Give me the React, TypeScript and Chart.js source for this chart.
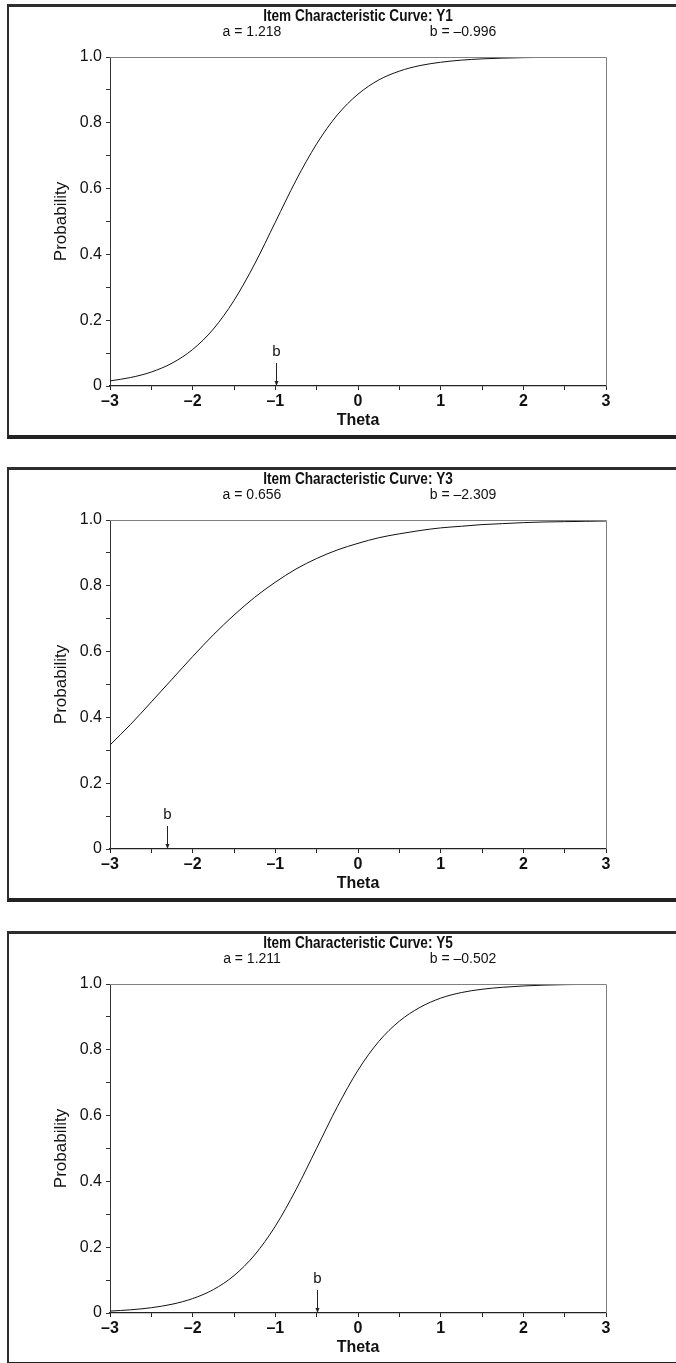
import React, { useEffect, useRef } from 'react';
import { Chart, registerables } from 'chart.js';

Chart.register(...registerables);

// ---- data ----
const THETA = [-3, -2.75, -2.5, -2.25, -2, -1.75, -1.5, -1.25, -1, -0.75, -0.5, -0.25, 0, 0.25, 0.5, 0.75, 1, 1.25, 1.5, 1.75, 2, 2.25, 2.5, 2.75, 3];
const Y1_PROB = [0.0155, 0.0258, 0.0425, 0.0694, 0.111, 0.173, 0.26, 0.371, 0.498, 0.625, 0.736, 0.824, 0.887, 0.93, 0.957, 0.974, 0.984, 0.9905, 0.9943, 0.9966, 0.998, 0.9988, 0.9993, 0.9996, 0.9997];
const Y3_PROB = [0.316, 0.379, 0.447, 0.516, 0.585, 0.651, 0.711, 0.765, 0.811, 0.851, 0.883, 0.909, 0.929, 0.946, 0.958, 0.968, 0.976, 0.981, 0.986, 0.989, 0.992, 0.994, 0.995, 0.996, 0.997];
const Y5_PROB = [0.0058, 0.0097, 0.0161, 0.0266, 0.0438, 0.0711, 0.1136, 0.1766, 0.264, 0.375, 0.501, 0.627, 0.738, 0.825, 0.887, 0.929, 0.957, 0.974, 0.984, 0.99, 0.994, 0.9966, 0.998, 0.9988, 0.9993];
const ITEM_NAMES = ['Y1', 'Y3', 'Y5'];
const A_PARAMS = [1.218, 0.656, 1.211];
const B_PARAMS = [-0.996, -2.309, -0.502];
const X_TICK_LABELS = ['\u20133', '\u20132', '\u20131', '0', '1', '2', '3'];
const Y_TICK_LABELS = ['0', '0.2', '0.4', '0.6', '0.8', '1.0'];

const PROBS = [Y1_PROB, Y3_PROB, Y5_PROB];

// ---- layout ----
const PANEL_TOPS = [4, 467, 931];
const CANVAS_W = 676;
const CANVAS_H = 435;
const FONT = '"Liberation Sans", Arial, Helvetica, sans-serif';
const TITLE_Y = 13;
const AB_Y = 28;
const A_X = 252;
const B_X = 463;
const TITLE_SQUEEZE = 0.85;

function fmt(v: number) {
  const s = Math.abs(v).toFixed(3);
  return v < 0 ? '\u2013' + s : s;
}

function Panel({ idx }: { idx: number }) {
  const ref = useRef<HTMLCanvasElement | null>(null);
  useEffect(() => {
    const canvas = ref.current;
    if (!canvas) return;
    const bVal = B_PARAMS[idx];
    const title = 'Item Characteristic Curve: ' + ITEM_NAMES[idx];
    const aText = 'a = ' + A_PARAMS[idx].toFixed(3);
    const bText = 'b = ' + fmt(bVal);

    const decor = {
      id: 'decor' + idx,
      afterDraw(chart: any) {
        const { ctx, chartArea } = chart;
        const xs = chart.scales.x;
        const ys = chart.scales.y;
        ctx.save();
        // box top and right
        ctx.strokeStyle = '#808080';
        ctx.lineWidth = 1;
        ctx.beginPath();
        ctx.moveTo(chartArea.left, Math.round(chartArea.top) + 0.5);
        ctx.lineTo(Math.round(chartArea.right) + 0.5, Math.round(chartArea.top) + 0.5);
        ctx.lineTo(Math.round(chartArea.right) + 0.5, chartArea.bottom);
        ctx.stroke();
        // header texts
        ctx.fillStyle = '#111';
        ctx.textAlign = 'center';
        ctx.textBaseline = 'middle';
        ctx.save();
        ctx.translate((chartArea.left + chartArea.right) / 2, TITLE_Y);
        ctx.scale(TITLE_SQUEEZE, 1);
        ctx.font = 'bold 16px ' + FONT;
        ctx.fillText(title, 0, 0);
        ctx.restore();
        ctx.font = '14px ' + FONT;
        ctx.fillText(aText, A_X, AB_Y);
        ctx.fillText(bText, B_X, AB_Y);
        // b marker
        const bx = Math.round(xs.getPixelForValue(bVal)) + 0.5;
        const y0 = ys.getPixelForValue(0);
        const yTop = ys.getPixelForValue(0.07);
        ctx.strokeStyle = '#222';
        ctx.beginPath();
        ctx.moveTo(bx, yTop);
        ctx.lineTo(bx, y0 - 3);
        ctx.stroke();
        ctx.fillStyle = '#222';
        ctx.beginPath();
        ctx.moveTo(bx - 2, y0 - 5);
        ctx.lineTo(bx + 2, y0 - 5);
        ctx.lineTo(bx, y0);
        ctx.closePath();
        ctx.fill();
        ctx.fillStyle = '#111';
        ctx.font = '15px ' + FONT;
        ctx.fillText('b', bx, ys.getPixelForValue(0.105));
        ctx.restore();
      },
    };

    const chart = new Chart(canvas, {
      type: 'line',
      data: {
        datasets: [
          {
            data: THETA.map((t, i) => ({ x: t, y: PROBS[idx][i] })),
            borderColor: '#111',
            borderWidth: 1,
            pointRadius: 0,
            cubicInterpolationMode: 'monotone',
            fill: false,
          },
        ],
      },
      options: {
        responsive: false,
        animation: false,
        events: [],
        layout: { padding: { top: 53, right: 70, left: 0, bottom: 0 } },
        plugins: { legend: { display: false }, tooltip: { enabled: false }, title: { display: false } },
        scales: {
          x: {
            type: 'linear',
            min: -3,
            max: 3,
            afterFit: (s: any) => {
              s.height = 53;
            },
            grid: { drawOnChartArea: false, color: '#222', tickLength: 4, tickWidth: 1 },
            border: { color: '#222', width: 1.2 },
            ticks: {
              stepSize: 0.5,
              autoSkip: false,
              maxRotation: 0,
              padding: 2,
              color: '#111',
              font: { family: FONT, size: 16, weight: 'bold' },
              callback: (v: any) => {
                const n = Number(v);
                if (Math.abs(n - Math.round(n)) > 1e-6) return '';
                return X_TICK_LABELS[Math.round(n) + 3];
              },
            },
            title: {
              display: true,
              text: 'Theta',
              color: '#111',
              font: { family: FONT, size: 16, weight: 'bold' },
              padding: { top: 0, bottom: 9 },
            },
          },
          y: {
            min: 0,
            max: 1,
            afterFit: (s: any) => {
              s.width = 110;
            },
            grid: { drawOnChartArea: false, color: '#333', tickLength: 4, tickWidth: 1 },
            border: { color: '#333', width: 1 },
            ticks: {
              stepSize: 0.1,
              autoSkip: false,
              padding: 4,
              color: '#111',
              font: { family: FONT, size: 16 },
              callback: (v: any) => {
                const n = Math.round(Number(v) * 10);
                if (n % 2 !== 0) return '';
                return Y_TICK_LABELS[n / 2];
              },
            },
            title: {
              display: true,
              text: 'Probability',
              color: '#111',
              font: { family: FONT, size: 17 },
              padding: { top: 51, bottom: 0 },
            },
          },
        },
      },
      plugins: [decor],
    } as any);
    return () => chart.destroy();
  }, [idx]);

  const top = PANEL_TOPS[idx];
  return (
    <div style={{ position: 'absolute', left: 0, top, width: CANVAS_W, height: CANVAS_H }}>
      <div
        style={{
          position: 'absolute',
          left: 7,
          top: 0,
          width: CANVAS_W - 7,
          height: CANVAS_H,
          boxSizing: 'border-box',
          borderTop: '3px solid #2e2e2e',
          borderLeft: '2px solid #2e2e2e',
          borderBottom: '4px solid #222',
        }}
      />
      <canvas
        ref={ref}
        width={CANVAS_W}
        height={CANVAS_H}
        style={{ position: 'absolute', left: 0, top: 0, width: CANVAS_W, height: CANVAS_H }}
      />
    </div>
  );
}

export default function App() {
  return (
    <div
      style={{
        position: 'absolute',
        left: 0,
        top: 0,
        width: 676,
        height: 1363,
        overflow: 'hidden',
        background: '#fff',
      }}
    >
      {ITEM_NAMES.map((_, i) => (
        <Panel key={i} idx={i} />
      ))}
    </div>
  );
}
